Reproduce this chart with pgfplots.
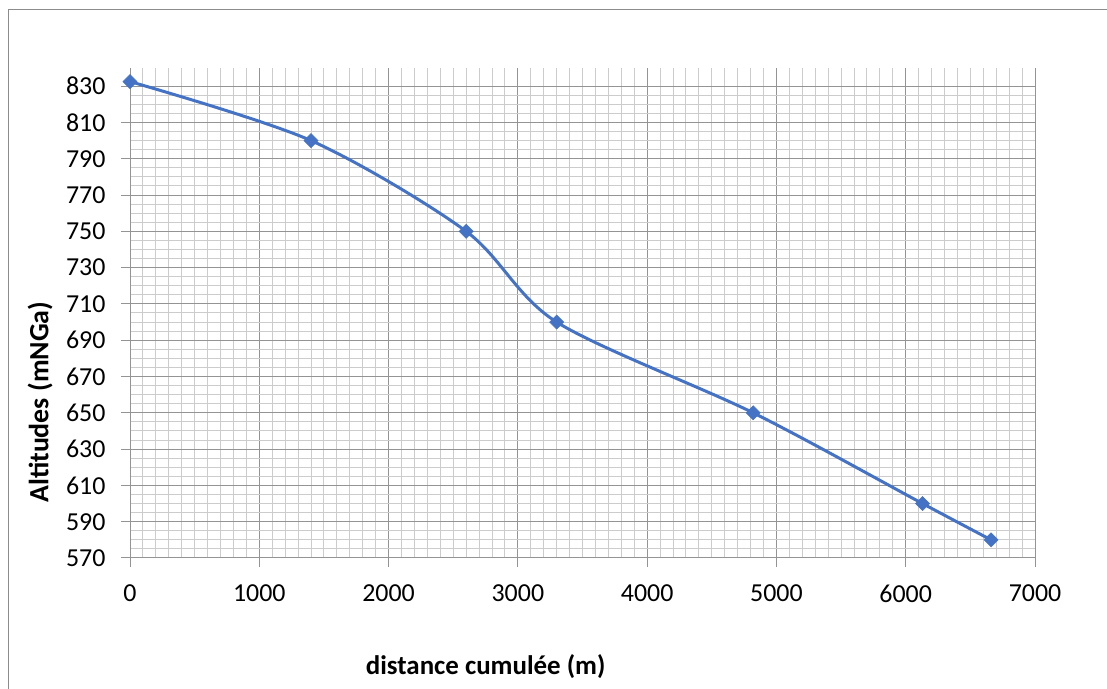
\documentclass[border=0pt]{standalone}
\usepackage{fontspec}
\setmainfont{Carlito}
\usepackage{pgfplots}
\pgfplotsset{compat=1.18}
\definecolor{exblue}{HTML}{4472C4}
\begin{document}
\begin{tikzpicture}[x=1bp,y=1bp]
\useasboundingbox (0,0) rectangle (1107,689);
\draw[color=black!45, line width=1bp] (8.5,0) -- (8.5,679.7) -- (1107,679.7);
\begin{axis}[
  at={(130bp,131bp)}, anchor=south west, scale only axis,
  width=905bp, height=490bp,
  xmin=0, xmax=7000, ymin=570, ymax=840,
  xtick={0,1000,...,7000}, ytick={570,590,...,830},
  minor x tick num=9, minor y tick num=3,
  grid=both,
  major grid style={color=black!42, line width=1bp},
  minor grid style={color=black!20, line width=1bp},
  axis x line*=bottom, axis y line*=left,
  axis line style={color=black!42, line width=1bp, -},
  major tick style={color=black!42, line width=1bp},
  major tick length=9bp, minor tick length=0pt,
  tick align=outside,
  clip=false,
  /pgf/number format/assume math mode=true,
  /pgf/number format/set thousands separator={},
  ticklabel style={font=\fontsize{26}{30}\selectfont, text=black},
  xticklabel style={yshift=-14bp},
  yticklabel style={xshift=-12bp},
  xlabel={distance cumulée (m)},
  ylabel={Altitudes (mNGa)},
  xlabel style={at={(rel axis cs:0.393,-0.2224)}, anchor=center, font=\bfseries\fontsize{27}{32}\selectfont},
  ylabel style={at={(rel axis cs:-0.0994,0.318)}, anchor=center, font=\bfseries\fontsize{28}{32}\selectfont},
]
\addplot[color=exblue, line width=3bp, smooth, tension=0.5,
  mark=square*, mark size=5bp, mark options={rotate=45, solid, fill=exblue, line width=0.5bp}]
  table {
x y
0 832.5
1400 800
2600 750
3300 700
4820 650
6130 600
6660 580
};
\end{axis}
\end{tikzpicture}
\end{document}
